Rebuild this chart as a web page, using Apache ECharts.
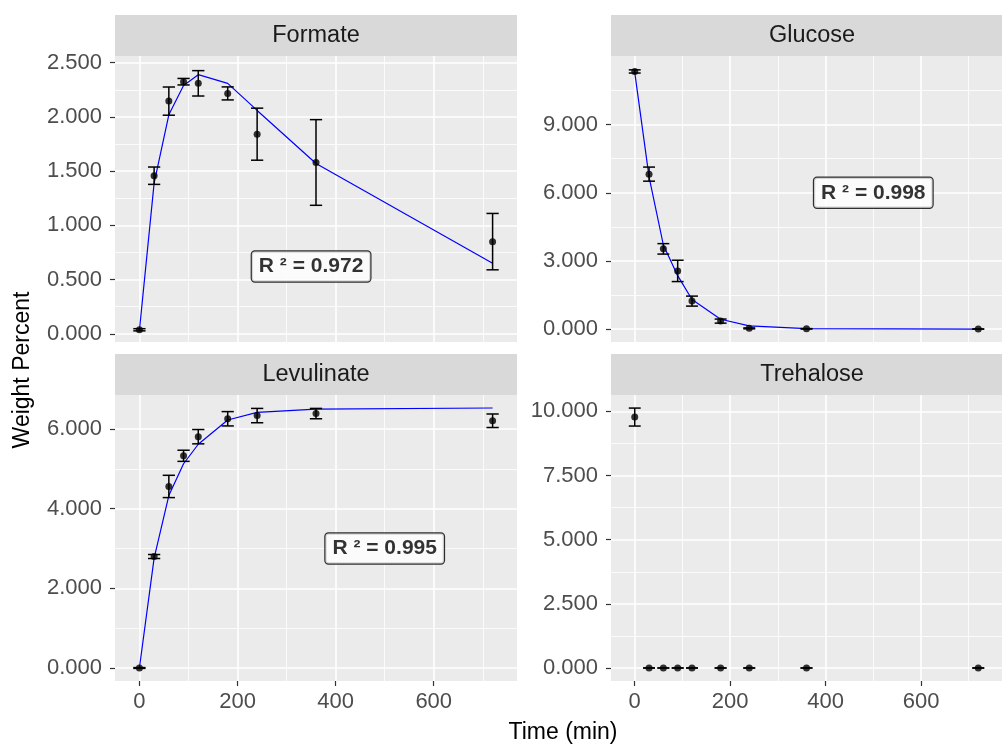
<!DOCTYPE html>
<html><head><meta charset="utf-8">
<script src="https://cdn.jsdelivr.net/npm/echarts@6/dist/echarts.min.js"></script>
<style>html,body{margin:0;padding:0;background:#fff}#c{width:1002px;height:746px}</style>
</head><body><div id="c"></div>
<script>
// ---- data ----
const times = [0, 30, 60, 90, 120, 180, 240, 360, 720];

const formateMean = [0.037, 1.458, 2.146, 2.325, 2.31, 2.217, 1.841, 1.58, 0.85];
const formateSd   = [0.01, 0.08, 0.13, 0.03, 0.117, 0.06, 0.24, 0.395, 0.26];
const formateFit  = [0.03, 1.39, 2.02, 2.29, 2.39, 2.31, 2.06, 1.57, 0.65];

const glucoseMean = [11.34, 6.82, 3.53, 2.56, 1.23, 0.35, 0.03, 0.01, 0.0];
const glucoseSd   = [0.07, 0.31, 0.23, 0.47, 0.22, 0.09, 0.02, 0.01, 0.0];
const glucoseFit  = [11.3, 6.7, 3.7, 2.35, 1.3, 0.43, 0.14, 0.02, 0.0];

const levulinateMean = [0.0, 2.80, 4.56, 5.33, 5.81, 6.26, 6.34, 6.39, 6.21];
const levulinateSd   = [0.01, 0.05, 0.28, 0.14, 0.18, 0.18, 0.18, 0.13, 0.17];
const levulinateFit  = [0.0, 2.76, 4.33, 5.13, 5.62, 6.23, 6.42, 6.50, 6.53];

const trehaloseMean = [9.78, 0, 0, 0, 0, 0, 0, 0, 0];
const trehaloseSd   = [0.35, 0, 0, 0, 0, 0, 0, 0, 0];

const panelNames = ['Formate', 'Glucose', 'Levulinate', 'Trehalose'];
const r2Labels = ['R \u00b2 = 0.972', 'R \u00b2 = 0.998', 'R \u00b2 = 0.995', null];
const r2Pos = [[350, 0.62], [500, 6.0], [500, 3.0], null];

const xTicks = [0, 200, 400, 600];
const xMinorTicks = [100, 300, 500, 700];
const yTicks = [
  [0, 0.5, 1, 1.5, 2, 2.5],
  [0, 3, 6, 9],
  [0, 2, 4, 6],
  [0, 2.5, 5, 7.5, 10]
];
const yMinorTicks = [
  [0.25, 0.75, 1.25, 1.75, 2.25],
  [1.5, 4.5, 7.5, 10.5],
  [1, 3, 5],
  [1.25, 3.75, 6.25, 8.75]
];
const yRanges = [[-0.0757, 2.562], [-0.57, 12.02], [-0.327, 6.857], [-0.507, 10.64]];
const xRange = [-49.75, 769.75];
const errCapWidth = 25;

const means = [formateMean, glucoseMean, levulinateMean, trehaloseMean];
const sds = [formateSd, glucoseSd, levulinateSd, trehaloseSd];
const fits = [formateFit, glucoseFit, levulinateFit, null];

// ---- layout ----
const FONT = '"Liberation Sans", Arial, sans-serif';
const layout = [
  {left: 115, top: 56, width: 402, height: 286, bottom: false},
  {left: 611, top: 56, width: 402, height: 286, bottom: false},
  {left: 115, top: 395, width: 402, height: 286, bottom: true},
  {left: 611, top: 395, width: 402, height: 286, bottom: true}
];
const stripH = 41;

const chart = echarts.init(document.getElementById('c'), null, {renderer: 'canvas'});

const grids = [], xAxes = [], yAxes = [], series = [], graphics = [];

function fmt3(v) { return Number(v).toFixed(3); }

layout.forEach((L, i) => {
  grids.push({left: L.left, top: L.top, width: L.width, height: L.height, backgroundColor: '#EBEBEB', show: true, borderWidth: 0, containLabel: false});
  xAxes.push({
    type: 'value', gridIndex: i, min: xRange[0], max: xRange[1], position: 'bottom',
    axisLine: {show: false, onZero: false},
    axisTick: {show: L.bottom, customValues: xTicks, length: 5, lineStyle: {color: '#333333', width: 1.2}},
    axisLabel: {show: L.bottom, customValues: xTicks, color: '#4D4D4D', fontSize: 22, fontFamily: FONT, margin: 10},
    splitLine: {show: true, lineStyle: {color: '#FFFFFF', width: 1.6}},
    z: 1
  });
  xAxes.push({
    type: 'value', gridIndex: i, min: xRange[0], max: xRange[1], position: 'bottom',
    axisLine: {show: false, onZero: false},
    axisTick: {show: false, customValues: xMinorTicks},
    axisLabel: {show: false, customValues: xMinorTicks},
    splitLine: {show: true, lineStyle: {color: '#FFFFFF', width: 0.8}},
    z: 0
  });
  yAxes.push({
    type: 'value', gridIndex: i, min: yRanges[i][0], max: yRanges[i][1], position: 'left',
    axisLine: {show: false, onZero: false},
    axisTick: {show: true, customValues: yTicks[i], length: 5, lineStyle: {color: '#333333', width: 1.2}},
    axisLabel: {show: true, customValues: yTicks[i], color: '#4D4D4D', fontSize: 22, fontFamily: FONT, margin: 13, formatter: fmt3},
    splitLine: {show: true, lineStyle: {color: '#FFFFFF', width: 1.6}},
    z: 1
  });
  yAxes.push({
    type: 'value', gridIndex: i, min: yRanges[i][0], max: yRanges[i][1], position: 'left',
    axisLine: {show: false, onZero: false},
    axisTick: {show: false, customValues: yMinorTicks[i]},
    axisLabel: {show: false, customValues: yMinorTicks[i]},
    splitLine: {show: true, lineStyle: {color: '#FFFFFF', width: 0.8}},
    z: 0
  });

  const xi = 2 * i, yi = 2 * i;

  if (fits[i]) {
    series.push({
      type: 'line', xAxisIndex: xi, yAxisIndex: yi,
      data: times.map((t, k) => [t, fits[i][k]]),
      showSymbol: false, symbol: 'none', smooth: false,
      lineStyle: {color: '#0000FF', width: 1.2},
      z: 3, silent: true, animation: false
    });
  }
  series.push({
    type: 'custom', xAxisIndex: xi, yAxisIndex: yi,
    data: times.map((t, k) => [t, means[i][k] - sds[i][k], means[i][k] + sds[i][k]]),
    renderItem: function (params, api) {
      const x = api.value(0), lo = api.value(1), hi = api.value(2);
      const top = api.coord([x, hi]), bot = api.coord([x, lo]);
      const l1 = api.coord([x - errCapWidth / 2, hi]), r1 = api.coord([x + errCapWidth / 2, hi]);
      const l2 = api.coord([x - errCapWidth / 2, lo]), r2 = api.coord([x + errCapWidth / 2, lo]);
      const st = {stroke: '#000000', lineWidth: 1.5};
      return {type: 'group', children: [
        {type: 'line', shape: {x1: top[0], y1: top[1], x2: bot[0], y2: bot[1]}, style: st},
        {type: 'line', shape: {x1: l1[0], y1: l1[1], x2: r1[0], y2: r1[1]}, style: st},
        {type: 'line', shape: {x1: l2[0], y1: l2[1], x2: r2[0], y2: r2[1]}, style: st}
      ]};
    },
    z: 4, silent: true, animation: false
  });
  series.push({
    type: 'scatter', xAxisIndex: xi, yAxisIndex: yi,
    data: times.map((t, k) => [t, means[i][k]]),
    symbol: 'circle', symbolSize: 7,
    itemStyle: {color: '#000000'},
    z: 5, silent: true, animation: false
  });
  if (r2Labels[i]) {
    series.push({
      type: 'scatter', xAxisIndex: xi, yAxisIndex: yi,
      data: [r2Pos[i]], symbolSize: 0,
      label: {
        show: true, position: 'inside', formatter: r2Labels[i],
        color: '#000000', fontSize: 21, fontWeight: 'bold', fontFamily: FONT,
        backgroundColor: '#FFFFFF', borderColor: '#000000', borderWidth: 1.2, borderRadius: 3,
        padding: [5, 7, 4, 7]
      },
      z: 6, silent: true, animation: false
    });
  }

  graphics.push({
    type: 'rect', left: L.left, top: L.top - stripH,
    shape: {width: L.width, height: stripH}, style: {fill: '#D9D9D9'}, silent: true
  });
  graphics.push({
    type: 'text', x: L.left + L.width / 2, y: L.top - stripH / 2,
    style: {text: panelNames[i], fill: '#1A1A1A', font: '23.5px ' + FONT, textAlign: 'center', textVerticalAlign: 'middle'},
    silent: true
  });
});

graphics.push({
  type: 'text', x: 563, y: 733,
  style: {text: 'Time (min)', fill: '#000000', font: '23px ' + FONT, textAlign: 'center', textVerticalAlign: 'middle'}
});
graphics.push({
  type: 'text', x: 23, y: 370, rotation: Math.PI / 2,
  style: {text: 'Weight Percent', fill: '#000000', font: '23px ' + FONT, textAlign: 'center', textVerticalAlign: 'middle'}
});

chart.setOption({
  animation: false,
  backgroundColor: '#FFFFFF',
  grid: grids, xAxis: xAxes, yAxis: yAxes, series: series,
  graphic: graphics
});
</script>
</body></html>
